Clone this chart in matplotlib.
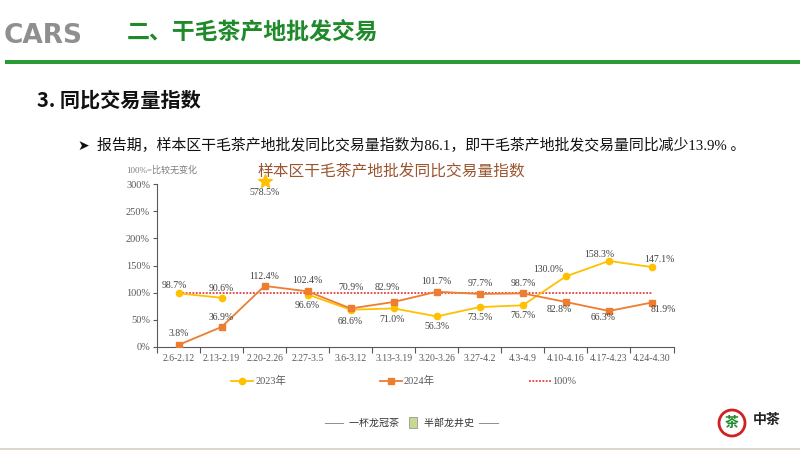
import numpy as np
import matplotlib
matplotlib.use("Agg")
from matplotlib import pyplot as plt
from matplotlib.lines import Line2D
from matplotlib.patches import Ellipse, Rectangle

# data
weeks = ['2.6-2.12', '2.13-2.19', '2.20-2.26', '2.27-3.5', '3.6-3.12', '3.13-3.19',
         '3.20-3.26', '3.27-4.2', '4.3-4.9', '4.10-4.16', '4.17-4.23', '4.24-4.30']
y2023 = [98.7, 90.6, np.nan, 96.6, 68.6, 71.0, 56.3, 73.5, 76.7, 130.0, 158.3, 147.1]
y2024 = [3.8, 36.9, 112.4, 102.4, 70.9, 82.9, 101.7, 97.7, 98.7, 82.8, 66.3, 81.9]
outlier_2023 = 578.5   # 2.20-2.26, off the scale
baseline = 100
yticks = [0, 50, 100, 150, 200, 250, 300]

# label offsets in pixels (dx, dy up)
off2023 = [(-4, 8), (0, 9), None, (0, -11), (0, -12), (-2, -11), (0, -10), (0, -10),
           (0, -10), (-18, 7), (-10, 6), (7, 8)]
off2024 = [(0, 11), (0, 9), (0, 9), (0, 11), (0, 21), (-6, 14), (0, 10), (0, 10),
           (0, 10), (-7, -7), (-6, -7), (11, -7)]

W, H = 800, 451
fig = plt.figure(figsize=(8, 4.51), dpi=100)

def fx(x):
    return x / W

def fy(y):
    return 1 - y / H

CJK = ['Noto Sans CJK SC', 'DejaVu Sans']
SER = ['Liberation Serif', 'Noto Sans CJK SC']

# page header
fig.text(fx(4), fy(36), 'CARS', fontsize=19, color='#8f8f8f', family='DejaVu Sans',
         weight='bold', va='center', ha='left')
fig.text(fx(127), fy(32), '二、干毛茶产地批发交易', fontsize=16.5, color='#1f8a2a',
         family=CJK, weight='bold', va='center')
fig.add_artist(Rectangle((fx(5), fy(64)), fx(795), 4 / H, transform=fig.transFigure,
                         color='#2a9a35', lw=0))
fig.text(fx(37), fy(100), '3. 同比交易量指数', fontsize=14.5, color='#111111',
         family=CJK, weight='bold', va='center')
fig.text(fx(77), fy(146), '➤', fontsize=10, color='#111111', family='DejaVu Sans', va='center')
fig.text(fx(97), fy(146), '报告期，样本区干毛茶产地批发同比交易量指数为86.1，即干毛茶产地批发交易量同比减少13.9% 。',
         fontsize=10.75, color='#111111', family=SER, va='center')

# chart
ax = fig.add_axes([fx(157), 104 / H, 516.5 / W, 163 / H])
x = np.arange(len(weeks))
ax.plot(x, y2023, color='#FFC000', lw=1.3, marker='o', ms=4.5, label='2023年', zorder=3)
ax.plot(x, y2024, color='#ED7D31', lw=1.3, marker='s', ms=4.5, label='2024年', zorder=3)
ax.plot([0, len(weeks) - 1], [baseline, baseline], color='#E02020', lw=1.1,
        ls=(0, (1.2, 1.0)), label='100%', zorder=2)

ax.plot(2, 305, marker='*', ms=10, color='#FFC000', clip_on=False, zorder=4)
ax.text(2, 285, f'{outlier_2023}%', ha='center', va='center', fontsize=7,
        color='#404040', family=SER)

for vals, offs in ((y2023, off2023), (y2024, off2024)):
    for i, (v, o) in enumerate(zip(vals, offs)):
        if o is None or np.isnan(v):
            continue
        ax.annotate(f'{v:.1f}%', (i, v), xytext=(o[0] * 0.72, o[1] * 0.72),
                    textcoords='offset points', ha='center', va='center',
                    fontsize=7, color='#404040', family=SER)

ax.set_xlim(-0.5, len(weeks) - 0.5)
ax.set_ylim(0, 300)
ax.set_yticks(yticks)
ax.set_yticklabels([f'{t}%' for t in yticks], family=SER, fontsize=7.5, color='#595959')
ax.set_xticks(np.arange(-0.5, len(weeks), 1))
ax.set_xticklabels([])
ax.set_xticks(x, minor=True)
ax.set_xticklabels(weeks, minor=True, family=SER, fontsize=7, color='#595959')
ax.tick_params(axis='x', which='major', length=4, color='#595959', width=0.8)
ax.tick_params(axis='x', which='minor', length=0, pad=5)
ax.tick_params(axis='y', length=3, color='#595959', width=0.8, pad=2)
for s in ('top', 'right'):
    ax.spines[s].set_visible(False)
for s in ('left', 'bottom'):
    ax.spines[s].set_color('#595959')
    ax.spines[s].set_linewidth(0.8)

fig.text(fx(126), fy(170), '100%=比较无变化', fontsize=6.5, color='#7f7f7f', family=SER, va='center')
fig.text(fx(258), fy(172), '样本区干毛茶产地批发同比交易量指数', fontsize=11.3, color='#99552f',
         family=CJK, va='center')

leg = ax.legend(loc='upper center', bbox_to_anchor=(fx(404), fy(367)), bbox_transform=fig.transFigure,
                ncol=3, frameon=False, prop={'family': SER, 'size': 7.5},
                handlelength=2.1, columnspacing=9.0, handletextpad=0.2)
for t in leg.get_texts():
    t.set_color('#595959')

# footer
fig.text(fx(412), fy(423), '——  一杯龙冠茶          半部龙井史  ——', fontsize=7.2, color='#333333',
         family=SER, ha='center', va='center')
fig.add_artist(Rectangle((fx(409), fy(428)), 8 / W, 11 / H, transform=fig.transFigure,
                         facecolor='#c8d890', edgecolor='#888888', lw=0.5))
fig.add_artist(Ellipse((fx(732), fy(423)), 26 / W, 26 / H, transform=fig.transFigure,
                       facecolor='white', edgecolor='#d02020', lw=2))
fig.text(fx(732), fy(423), '茶', fontsize=10, color='#1e8a2a', family=CJK,
         weight='bold', ha='center', va='center')
fig.text(fx(767), fy(420), '中茶', fontsize=10, color='#222222', family=CJK,
         weight='bold', ha='center', va='center')
fig.add_artist(Line2D([0, 1], [fy(449), fy(449)], transform=fig.transFigure,
                      color='#dcd6cc', lw=1.5))

fig.savefig('out.png', dpi=100)
